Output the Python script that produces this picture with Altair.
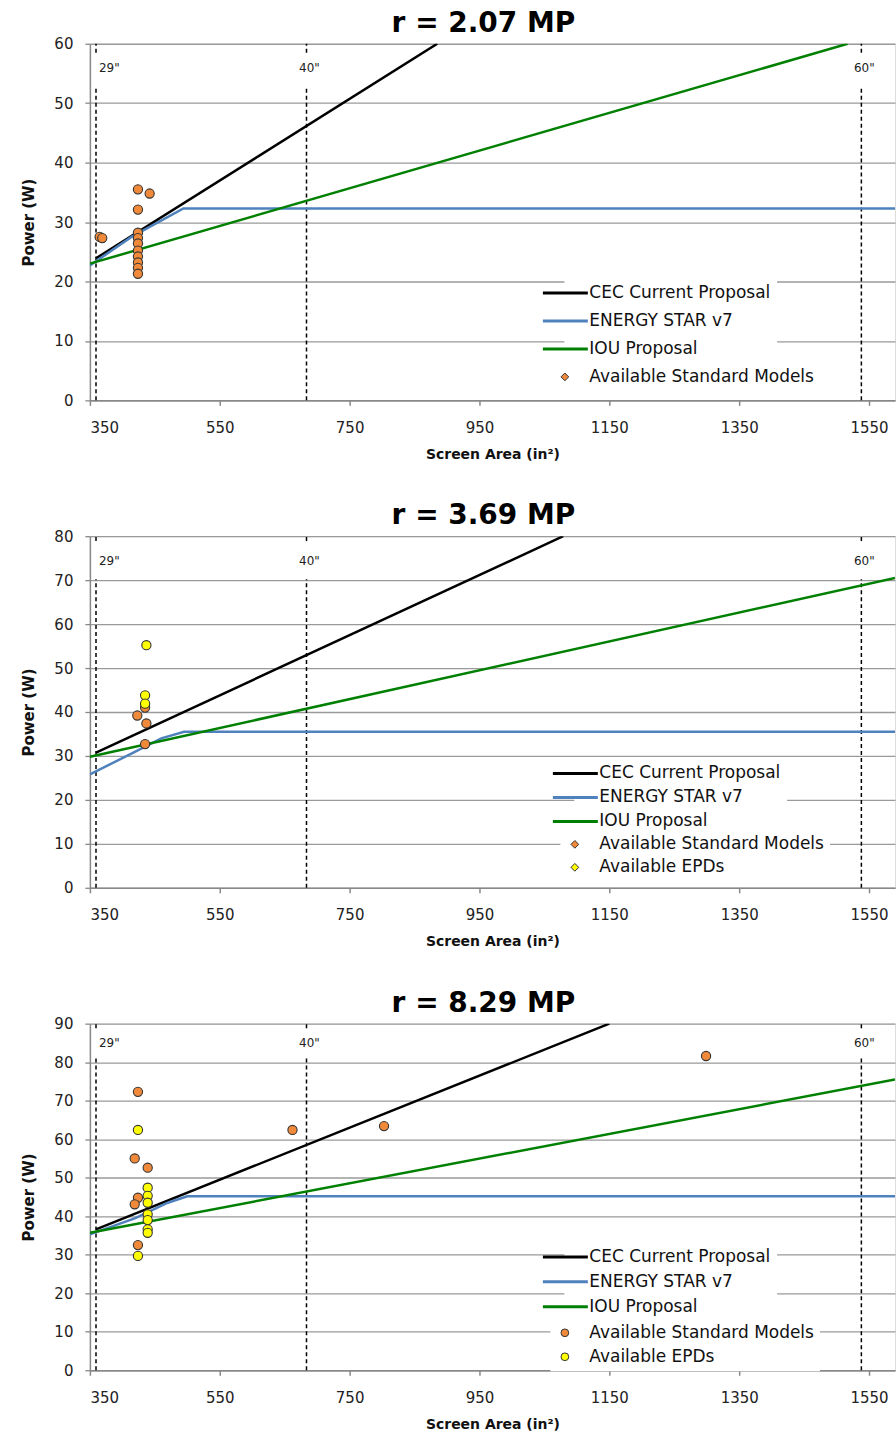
import altair as alt
import pandas as pd

X_MIN, X_MAX = 350, 1590
X_TICKS = [350, 550, 750, 950, 1150, 1350, 1550]
FONT = "DejaVu Sans"

titles = ["r = 2.07 MP", "r = 3.69 MP", "r = 8.29 MP"]
y_maxes = [60, 80, 90]

series_names = ["CEC Current Proposal", "ENERGY STAR v7", "IOU Proposal"]
series_colors = ["#000000", "#4F81BD", "#008000"]
point_names = ["Available Standard Models", "Available EPDs"]
point_colors = ["#F08A3A", "#FFFF00"]

diag_labels = ['29"', '40"', '60"']
diag_areas = [359.4, 683.6, 1538.2]
diag_label_y = [56, 74.3, 85]
diag_gap_lo = [52.8, 70.2, 81.2]
diag_gap_hi = [58.5, 78.9, 88.8]

# ---- Panel 1: r = 2.07 MP
p1_cec_x = [359.4, 885]
p1_cec_y = [23.9, 60]
p1_es_x = [350, 414, 494, 1590]
p1_es_y = [22.7, 27.5, 32.3, 32.3]
p1_iou_x = [350, 1517]
p1_iou_y = [23.0, 60]
p1_std_x = [365, 369, 424, 424, 424, 424, 424, 424, 424, 424, 424, 424, 442]
p1_std_y = [27.5, 27.3, 35.5, 32.1, 28.2, 27.3, 26.4, 25.2, 24.2, 23.2, 22.3, 21.3, 34.8]
p1_epd_x = []
p1_epd_y = []

# ---- Panel 2: r = 3.69 MP
p2_cec_x = [359.4, 1079]
p2_cec_y = [30.75, 80]
p2_es_x = [350, 420, 460, 495, 1590]
p2_es_y = [25.8, 31.0, 34.0, 35.5, 35.5]
p2_iou_x = [350, 1590]
p2_iou_y = [29.8, 70.5]
p2_std_x = [435, 423, 437, 435]
p2_std_y = [41.0, 39.2, 37.4, 32.7]
p2_epd_x = [437, 435, 435]
p2_epd_y = [55.2, 43.8, 41.9]

# ---- Panel 3: r = 8.29 MP
p3_cec_x = [359.4, 1150]
p3_cec_y = [36.6, 90]
p3_es_x = [350, 420, 470, 500, 1590]
p3_es_y = [35.3, 39.5, 43.5, 45.2, 45.2]
p3_iou_x = [350, 1590]
p3_iou_y = [35.7, 75.5]
p3_std_x = [424, 419, 424, 419, 424, 439, 662, 803, 1299]
p3_std_y = [72.3, 55.0, 44.8, 43.1, 32.5, 52.6, 62.4, 63.4, 81.6]
p3_epd_x = [424, 424, 439, 439, 439, 439, 439, 439, 439]
p3_epd_y = [62.4, 29.7, 47.4, 45.3, 43.5, 40.5, 39.0, 36.6, 35.7]

panels = [
    dict(lines=[(p1_cec_x, p1_cec_y), (p1_es_x, p1_es_y), (p1_iou_x, p1_iou_y)],
         std=(p1_std_x, p1_std_y), epd=(p1_epd_x, p1_epd_y), height=357,
         leg_line=(475, 235, 10), leg_pt=(461, 319, 10), sym="diamond"),
    dict(lines=[(p2_cec_x, p2_cec_y), (p2_es_x, p2_es_y), (p2_iou_x, p2_iou_y)],
         std=(p2_std_x, p2_std_y), epd=(p2_epd_x, p2_epd_y), height=352,
         leg_line=(485, 223, 6), leg_pt=(471, 294, 5), sym="diamond"),
    dict(lines=[(p3_cec_x, p3_cec_y), (p3_es_x, p3_es_y), (p3_iou_x, p3_iou_y)],
         std=(p3_std_x, p3_std_y), epd=(p3_epd_x, p3_epd_y), height=347,
         leg_line=(475, 219, 7), leg_pt=(461, 295, 6), sym="circle"),
]

WIDTH = 806
LINE_SYMBOL = "M-8,0H2"


def build_panel(i, p):
    ymax = y_maxes[i]
    line_rows = []
    for name, (xs, ys) in zip(series_names, p["lines"]):
        for x, y in zip(xs, ys):
            line_rows.append({"series": name, "area": x, "power": y})
    line_df = pd.DataFrame(line_rows)

    pt_rows = []
    for name, (xs, ys) in zip(point_names, [p["std"], p["epd"]]):
        for x, y in zip(xs, ys):
            pt_rows.append({"kind": name, "area": x, "power": y})
    pt_df = pd.DataFrame(pt_rows)
    present = [n for n in point_names if n in set(pt_df["kind"])]
    pcols = [point_colors[point_names.index(n)] for n in present]

    rule_rows = []
    for lab, a in zip(diag_labels, diag_areas):
        rule_rows.append({"label": lab, "area": a, "y0": 0, "y1": diag_gap_lo[i]})
        rule_rows.append({"label": lab, "area": a, "y0": diag_gap_hi[i], "y1": ymax})
    rule_df = pd.DataFrame(rule_rows)
    text_df = pd.DataFrame({"label": diag_labels, "area": diag_areas,
                            "ly": [diag_label_y[i]] * 3})

    xscale = alt.Scale(domain=[X_MIN, X_MAX], nice=False, zero=False)
    yscale = alt.Scale(domain=[0, ymax], nice=False)
    x_axis = alt.Axis(values=X_TICKS, format="d", grid=False,
                      title="Screen Area (in²)",
                      titleFont=FONT, titleFontSize=14, titleFontWeight="bold",
                      titleColor="#111", labelFont=FONT, labelFontSize=15,
                      labelColor="#222", domainColor="#888", domainWidth=1.5,
                      tickColor="#888", tickWidth=1.5, tickSize=5,
                      labelPadding=15, titlePadding=12)
    y_axis = alt.Axis(values=list(range(0, ymax + 1, 10)), grid=True,
                      gridColor="#9a9a9a", gridWidth=1.3, title="Power (W)",
                      titleFont=FONT, titleFontSize=15, titleFontWeight="bold",
                      titleColor="#111", labelFont=FONT, labelFontSize=15,
                      labelColor="#222", domainColor="#888", domainWidth=1.5,
                      tickColor="#888", tickWidth=1.3, tickSize=5,
                      labelPadding=12, titlePadding=17)

    rules = alt.Chart(rule_df).mark_rule(color="black", strokeDash=[4, 3],
                                         strokeWidth=1.5).encode(
        x=alt.X("area:Q", scale=xscale, axis=x_axis),
        y=alt.Y("y0:Q", scale=yscale, axis=y_axis),
        y2="y1:Q")

    txt_base = alt.Chart(text_df)
    txt_left = txt_base.transform_filter(alt.datum.label == '29"').mark_text(
        align="left", baseline="middle", dx=3, font=FONT, fontSize=12,
        color="#222").encode(
        x=alt.X("area:Q", scale=xscale, axis=x_axis),
        y=alt.Y("ly:Q", scale=yscale, axis=y_axis), text="label:N")
    txt_mid = txt_base.transform_filter(alt.datum.label != '29"').mark_text(
        align="center", baseline="middle", dx=3, font=FONT, fontSize=12,
        color="#222").encode(
        x=alt.X("area:Q", scale=xscale, axis=x_axis),
        y=alt.Y("ly:Q", scale=yscale, axis=y_axis), text="label:N")

    lx, ly, lrp = p["leg_line"]
    lines = alt.Chart(line_df).mark_line(strokeWidth=2.5, clip=True).encode(
        x=alt.X("area:Q", scale=xscale, axis=x_axis),
        y=alt.Y("power:Q", scale=yscale, axis=y_axis),
        color=alt.Color("series:N",
                        scale=alt.Scale(domain=series_names, range=series_colors),
                        sort=series_names,
                        legend=alt.Legend(title=None, orient="none", legendX=lx,
                                          legendY=ly, symbolType=LINE_SYMBOL,
                                          symbolSize=81, symbolStrokeWidth=3,
                                          labelFont=FONT, labelFontSize=17,
                                          labelColor="#111", rowPadding=lrp,
                                          fillColor="white", padding=6,
                                          labelOffset=2, labelLimit=400)))

    px, py, prp = p["leg_pt"]
    points = alt.Chart(pt_df).mark_circle(size=85, opacity=1, stroke="#333333",
                                          strokeWidth=1.1).encode(
        x=alt.X("area:Q", scale=xscale, axis=x_axis),
        y=alt.Y("power:Q", scale=yscale, axis=y_axis),
        fill=alt.Fill("kind:N", scale=alt.Scale(domain=present, range=pcols),
                      sort=present,
                      legend=alt.Legend(title=None, orient="none", legendX=px,
                                        legendY=py, symbolType=p["sym"],
                                        symbolSize=60, symbolStrokeColor="#333",
                                        symbolStrokeWidth=1, symbolOpacity=1,
                                        labelFont=FONT, labelFontSize=17,
                                        labelColor="#111", rowPadding=prp,
                                        fillColor="white", padding=6,
                                        labelOffset=16, labelLimit=400)))

    return alt.layer(rules, txt_left, txt_mid, lines, points).properties(
        width=WIDTH, height=p["height"],
        title=alt.TitleParams(text=titles[i], font=FONT, fontSize=28,
                              fontWeight="bold", color="black", anchor="middle",
                              dx=-9, offset=-1))


chart = alt.vconcat(*[build_panel(i, p) for i, p in enumerate(panels)],
                    spacing=39).resolve_scale(color="independent",
                                              fill="independent").properties(
    padding={"left": 21, "top": 8, "right": 0, "bottom": 0}
).configure_view(stroke=None).configure(background="white")

chart.save("out.html", embed_options={"renderer": "svg", "actions": False})
